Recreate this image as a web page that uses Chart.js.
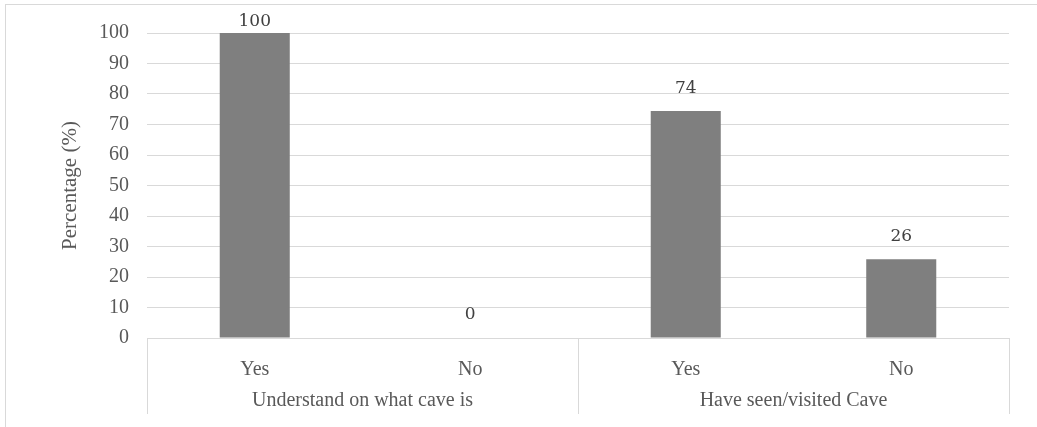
<!DOCTYPE html>
<html>
<head>
<meta charset="utf-8">
<script src="https://cdn.jsdelivr.net/npm/chart.js@4/dist/chart.umd.min.js"></script>
<style>
  html, body { margin: 0; padding: 0; background: #fff; }
  #wrap { width: 1037px; height: 427px; }
</style>
</head>
<body>
<div id="wrap"><canvas id="caveChart"></canvas></div>
<script>
// Survey data
const groups = ['Understand on what cave is', 'Have seen/visited Cave'];
const answers = ['Yes', 'No', 'Yes', 'No'];
const percentages = [100, 0, 74.4, 25.8];
const yTicks = [0, 10, 20, 30, 40, 50, 60, 70, 80, 90, 100];

const textColor = '#595959';
const lineColor = '#d9d9d9';
const serif = '"Liberation Serif", "Times New Roman", serif';

// Outer frame, group separators and group labels
const framePlugin = {
    id: 'frame',
    beforeDraw(chart) {
        const c = chart.ctx;
        c.save();
        c.strokeStyle = lineColor;
        c.lineWidth = 1;
        c.beginPath();
        c.moveTo(5, 4.5); c.lineTo(chart.width, 4.5);
        c.moveTo(5.5, 4); c.lineTo(5.5, chart.height);
        c.stroke();
        c.restore();
    },
    afterDraw(chart) {
        const c = chart.ctx;
        const x = chart.scales.x;
        const base = chart.scales.y.getPixelForValue(0);
        const half = (x.getPixelForValue(1) - x.getPixelForValue(0)) / 2;
        const perGroup = answers.length / groups.length;
        c.save();
        c.strokeStyle = lineColor;
        c.lineWidth = 1;
        c.beginPath();
        for (let g = 0; g <= groups.length; g++) {
            const px = Math.round(x.getPixelForValue(g * perGroup) - half) + 0.5;
            c.moveTo(px, base);
            c.lineTo(px, base + 76);
        }
        c.stroke();
        c.fillStyle = textColor;
        c.font = '20px ' + serif;
        c.textAlign = 'center';
        c.textBaseline = 'middle';
        groups.forEach((g, i) => {
            const a = x.getPixelForValue(i * perGroup) - half;
            const b = x.getPixelForValue((i + 1) * perGroup - 1) + half;
            c.fillText(g, (a + b) / 2, base + 63);
        });
        c.restore();
    }
};

// Value labels above the bars
const valueLabels = {
    id: 'valueLabels',
    afterDatasetsDraw(chart) {
        const c = chart.ctx;
        const meta = chart.getDatasetMeta(0);
        c.save();
        c.fillStyle = '#404040';
        c.font = '17px "DejaVu Serif", serif';
        c.textAlign = 'center';
        c.textBaseline = 'middle';
        meta.data.forEach((bar, i) => {
            const y = Math.max(bar.y - 23, chart.chartArea.top - 11);
            c.fillText(Math.round(percentages[i]), bar.x, y);
        });
        c.restore();
    }
};

new Chart(document.getElementById('caveChart'), {
    type: 'bar',
    data: {
        labels: answers,
        datasets: [{
            data: percentages,
            backgroundColor: '#7f7f7f',
            borderWidth: 0,
            categoryPercentage: 1,
            barPercentage: 0.325
        }]
    },
    options: {
        responsive: true,
        maintainAspectRatio: false,
        animation: false,
        layout: { padding: { left: 0, right: 28, top: 33, bottom: 0 } },
        plugins: { legend: { display: false }, tooltip: { enabled: false } },
        scales: {
            x: {
                grid: { display: false },
                border: { color: lineColor },
                ticks: { color: textColor, font: { family: serif, size: 20 }, padding: 12 },
                afterFit: s => { s.height = 89; }
            },
            y: {
                min: 0,
                max: 100,
                afterBuildTicks: s => { s.ticks = yTicks.map(v => ({ value: v })); },
                grid: { color: lineColor, drawTicks: false },
                border: { display: false },
                ticks: { color: textColor, font: { family: serif, size: 20 }, padding: 18 },
                title: {
                    display: true,
                    text: 'Percentage (%)',
                    color: textColor,
                    font: { family: serif, size: 21 },
                    padding: { top: 58, bottom: 0 }
                },
                afterFit: s => { s.width = 147; }
            }
        }
    },
    plugins: [framePlugin, valueLabels]
});
</script>
</body>
</html>
